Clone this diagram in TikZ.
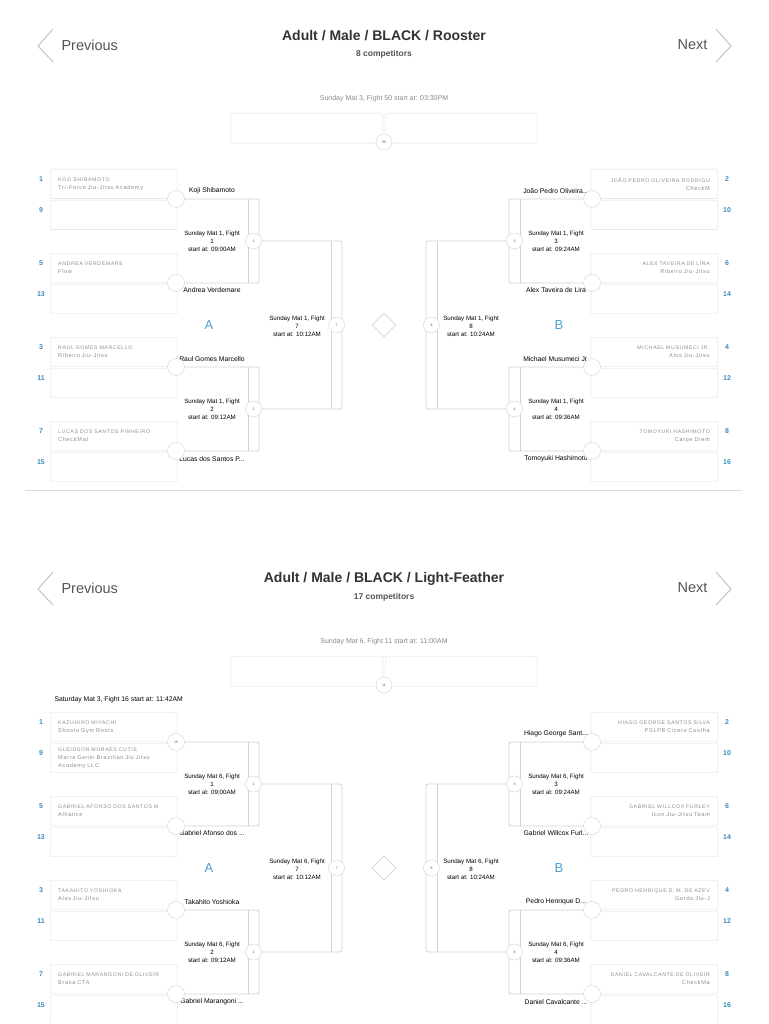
\documentclass[tikz,border=0pt]{standalone}
\usepackage{fontspec}
\setmainfont{Liberation Sans}
\newfontfamily\spacedfont[LetterSpace=12]{Liberation Sans}
\usetikzlibrary{shapes.geometric,backgrounds}
\definecolor{boxline}{HTML}{DCDCDC}
\definecolor{wiregrey}{HTML}{D2D2D2}
\definecolor{namegrey}{HTML}{8E8E8E}
\definecolor{seedblue}{HTML}{3A8CBF}
\definecolor{poolblue}{HTML}{4A9FD4}
\definecolor{headgrey}{HTML}{555555}
\definecolor{dategrey}{HTML}{8A8A8A}
\definecolor{inkdark}{HTML}{333333}
\newcommand\nmsize{\fontsize{5.2}{8}\selectfont}
\tikzset{
  seedbox/.style  = {draw=boxline, rounded corners=2pt, anchor=north west,
                     minimum width=127pt, minimum height=29.5pt, inner xsep=8pt,
                     text width=111pt, align=left, text=namegrey,
                     font=\spacedfont\fontsize{5.6}{8}\selectfont},
  seedboxr/.style = {seedbox, anchor=north east, align=right},
  finalbox/.style = {draw=boxline, rounded corners=2pt, minimum width=152pt,
                     minimum height=30pt},
  seednum/.style  = {text=seedblue, font=\fontsize{7}{8}\selectfont\bfseries},
  joint/.style    = {circle, draw=wiregrey, fill=white, minimum size=17pt,
                     inner sep=0pt, text=headgrey, font=\fontsize{3.5}{4}\selectfont},
  dot/.style      = {circle, draw=wiregrey, fill=white, minimum size=16pt,
                     inner sep=0pt, text=headgrey, font=\fontsize{3.5}{4}\selectfont},
  winner/.style   = {text=black, font=\fontsize{6.8}{8}\selectfont},
  fightinfo/.style= {align=center, text=black, font=\fontsize{6.2}{8}\selectfont},
  wire/.style     = {draw=wiregrey, line width=0.8pt, rounded corners=2pt},
  poolmark/.style = {text=poolblue, font=\fontsize{13}{13}\selectfont},
  navtext/.style  = {text=headgrey, font=\fontsize{14.5}{16}\selectfont},
  chev/.style     = {draw=lightgray, line width=0.9pt},
  headline/.style = {text=inkdark, font=\fontsize{14}{16}\selectfont\bfseries},
  subline/.style  = {text=headgrey, font=\fontsize{8.5}{10}\selectfont\bfseries},
  dateline/.style = {text=dategrey, font=\fontsize{7}{8}\selectfont},
  middiamond/.style = {diamond, draw=wiregrey, line width=0.8pt,
                     minimum size=24pt, inner sep=0pt},
}

\begin{document}
\begin{tikzpicture}[x=1pt,y=-1pt]
  \begin{scope}[on background layer]
    \fill[white] (0,0) rectangle (768,1024);
  \end{scope}
  \useasboundingbox (0,0) rectangle (768,1024);

  % ---------------- Rooster ----------------
  \draw[chev] (53,29) -- (38,46) -- (53,62);
  \node[navtext, anchor=west] (rPrev) at (58,45) {Previous};
  \node[navtext, anchor=east] (rNext) at (711,45) {Next};
  \draw[chev] (716,29) -- (731,46) -- (716,62);
  \node[headline] (rTitle) at (384,36) {Adult / Male / BLACK / Rooster};
  \node[subline] (rCount) at (384,54) {8 competitors};
  \node[dateline] (rDate) at (384,99) {Sunday Mat 3, Fight 50 start at: 03:30PM};
  \node[finalbox, anchor=north east] (rFinA) at (383,113) {};
  \node[finalbox, anchor=north west] (rFinB) at (385,113) {};
  \node[dot] (rF50) at (384,142) {50};

  % pool A
  \node[seedbox] (rL1) at (50,169) {{\nmsize KOJI SHIBAMOTO}\\Tri-Force Jiu-Jitsu Academy};
  \node[seedbox] (rL9) at (50,200) {};
  \node[seedbox] (rL5) at (50,253) {{\nmsize ANDREA VERDEMARE}\\Flow};
  \node[seedbox] (rL13) at (50,284) {};
  \node[seedbox] (rL3) at (50,337) {{\nmsize RAUL GOMES MARCELLO}\\Ribeiro Jiu-Jitsu};
  \node[seedbox] (rL11) at (50,368) {};
  \node[seedbox] (rL7) at (50,421) {{\nmsize LUCAS DOS SANTOS PINHEIRO}\\CheckMat};
  \node[seedbox] (rL15) at (50,452) {};
  \node[seednum] (rS1) at (41,179) {1};
  \node[seednum] (rS9) at (41,210) {9};
  \node[seednum] (rS5) at (41,263) {5};
  \node[seednum] (rS13) at (41,294) {13};
  \node[seednum] (rS3) at (41,347) {3};
  \node[seednum] (rS11) at (41,378) {11};
  \node[seednum] (rS7) at (41,431) {7};
  \node[seednum] (rS15) at (41,462) {15};
  \node[winner] (rW1) at (212,191) {Koji Shibamoto};
  \node[winner] (rW5) at (212,290) {Andrea Verdemare};
  \node[winner] (rW3) at (212,359) {Raul Gomes Marcello};
  \node[winner] (rW7) at (212,459) {Lucas dos Santos P...};
  \node[joint] (rJ1) at (176,199) {};
  \node[joint] (rJ5) at (176,283) {};
  \node[joint] (rJ3) at (176,367) {};
  \node[joint] (rJ7) at (176,451) {};
  \node[fightinfo] (rI1) at (212,241) {Sunday Mat 1, Fight\\1\\start at: 09:00AM};
  \node[fightinfo] (rI2) at (212,409) {Sunday Mat 1, Fight\\2\\start at: 09:12AM};
  \node[fightinfo] (rI7) at (297,326) {Sunday Mat 1, Fight\\7\\start at: 10:12AM};
  \node[dot] (rF1) at (253.5,241) {1};
  \node[dot] (rF2) at (253.5,409) {2};
  \node[dot] (rF7) at (336.5,325) {7};
  \node[poolmark] (rPoolA) at (209,325) {A};

  % pool B
  \node[seedboxr] (rR2) at (718,169) {{\nmsize JOÃO PEDRO OLIVEIRA RODRIGU}\\CheckM};
  \node[seedboxr] (rR10) at (718,200) {};
  \node[seedboxr] (rR6) at (718,253) {{\nmsize ALEX TAVEIRA DE LIRA}\\Ribeiro Jiu-Jitsu};
  \node[seedboxr] (rR14) at (718,284) {};
  \node[seedboxr] (rR4) at (718,337) {{\nmsize MICHAEL MUSUMECI JR.}\\Alos Jiu-Jitsu};
  \node[seedboxr] (rR12) at (718,368) {};
  \node[seedboxr] (rR8) at (718,421) {{\nmsize TOMOYUKI HASHIMOTO}\\Carpe Diem};
  \node[seedboxr] (rR16) at (718,452) {};
  \node[seednum] (rS2) at (727,179) {2};
  \node[seednum] (rS10) at (727,210) {10};
  \node[seednum] (rS6) at (727,263) {6};
  \node[seednum] (rS14) at (727,294) {14};
  \node[seednum] (rS4) at (727,347) {4};
  \node[seednum] (rS12) at (727,378) {12};
  \node[seednum] (rS8) at (727,431) {8};
  \node[seednum] (rS16) at (727,462) {16};
  \node[winner] (rW2) at (556,191) {João Pedro Oliveira...};
  \node[winner] (rW6) at (556,290) {Alex Taveira de Lira};
  \node[winner] (rW4) at (556,359) {Michael Musumeci Jr.};
  \node[winner] (rW8) at (556,459) {Tomoyuki Hashimoto};
  \node[joint] (rJ2) at (592,199) {};
  \node[joint] (rJ6) at (592,283) {};
  \node[joint] (rJ4) at (592,367) {};
  \node[joint] (rJ8) at (592,451) {};
  \node[fightinfo] (rI3) at (556,241) {Sunday Mat 1, Fight\\3\\start at: 09:24AM};
  \node[fightinfo] (rI4) at (556,409) {Sunday Mat 1, Fight\\4\\start at: 09:36AM};
  \node[fightinfo] (rI8) at (471,326) {Sunday Mat 1, Fight\\8\\start at: 10:24AM};
  \node[dot] (rF3) at (514.5,241) {3};
  \node[dot] (rF4) at (514.5,409) {4};
  \node[dot] (rF8) at (431.5,325) {8};
  \node[poolmark] (rPoolB) at (559,325) {B};
  \node[middiamond] (rMid) at (384,325) {};

  \begin{scope}[on background layer]
    \draw[wire] (rJ1) -- (259,199) -- (259,283) -- (rJ5);
    \draw[wire] (248,199) -- (248,283);
    \draw[wire] (rJ3) -- (259,367) -- (259,451) -- (rJ7);
    \draw[wire] (248,367) -- (248,451);
    \draw[wire] (rF1) -- (342,241) -- (342,409) -- (rF2);
    \draw[wire] (331,241) -- (331,409);
    \draw[wire] (rJ2) -- (509,199) -- (509,283) -- (rJ6);
    \draw[wire] (520,199) -- (520,283);
    \draw[wire] (rJ4) -- (509,367) -- (509,451) -- (rJ8);
    \draw[wire] (520,367) -- (520,451);
    \draw[wire] (rF3) -- (426,241) -- (426,409) -- (rF4);
    \draw[wire] (437,241) -- (437,409);
  \end{scope}

  \draw[boxline, line width=0.8pt] (25,490) -- (742,490);

  % ---------------- Light-Feather ----------------
  \begin{scope}[yshift=-543pt]
  \draw[chev] (53,29) -- (38,46) -- (53,62);
  \node[navtext, anchor=west] (fPrev) at (58,45) {Previous};
  \node[navtext, anchor=east] (fNext) at (711,45) {Next};
  \draw[chev] (716,29) -- (731,46) -- (716,62);
  \node[headline] (fTitle) at (384,36) {Adult / Male / BLACK / Light-Feather};
  \node[subline] (fCount) at (384,54) {17 competitors};
  \node[dateline] (fDate) at (384,99) {Sunday Mat 6, Fight 11 start at: 11:00AM};
  \node[finalbox, anchor=north east] (fFinA) at (383,113) {};
  \node[finalbox, anchor=north west] (fFinB) at (385,113) {};
  \node[dot] (fF11) at (384,142) {11};
  \node[winner, anchor=west] (fPre) at (51,157) {Saturday Mat 3, Fight 16 start at: 11:42AM};

  % pool A
  \node[seedbox] (fL1) at (50,169) {{\nmsize KAZUHIRO MIYACHI}\\Shooto Gym Roots};
  \node[seedbox] (fL9) at (50,200) {{\nmsize GLEIDSON MORAES CUTIS}\\Marra Genki Brazilian Jiu Jitsu\\Academy LLC};
  \node[seedbox] (fL5) at (50,253) {{\nmsize GABRIEL AFONSO DOS SANTOS M}\\Alliance};
  \node[seedbox] (fL13) at (50,284) {};
  \node[seedbox] (fL3) at (50,337) {{\nmsize TAKAHITO YOSHIOKA}\\Alos Jiu-Jitsu};
  \node[seedbox] (fL11) at (50,368) {};
  \node[seedbox] (fL7) at (50,421) {{\nmsize GABRIEL MARANGONI DE OLIVEIR}\\Brasa CTA};
  \node[seedbox] (fL15) at (50,452) {};
  \node[seednum] (fS1) at (41,179) {1};
  \node[seednum] (fS9) at (41,210) {9};
  \node[seednum] (fS5) at (41,263) {5};
  \node[seednum] (fS13) at (41,294) {13};
  \node[seednum] (fS3) at (41,347) {3};
  \node[seednum] (fS11) at (41,378) {11};
  \node[seednum] (fS7) at (41,431) {7};
  \node[seednum] (fS15) at (41,462) {15};
  \node[winner] (fW5) at (212,290) {Gabriel Afonso dos ...};
  \node[winner] (fW3) at (212,359) {Takahito Yoshioka};
  \node[winner] (fW7) at (212,459) {Gabriel Marangoni ...};
  \node[joint] (fJ1) at (176,199) {16};
  \node[joint] (fJ5) at (176,283) {};
  \node[joint] (fJ3) at (176,367) {};
  \node[joint] (fJ7) at (176,451) {};
  \node[fightinfo] (fI1) at (212,241) {Sunday Mat 6, Fight\\1\\start at: 09:00AM};
  \node[fightinfo] (fI2) at (212,409) {Sunday Mat 6, Fight\\2\\start at: 09:12AM};
  \node[fightinfo] (fI7) at (297,326) {Sunday Mat 6, Fight\\7\\start at: 10:12AM};
  \node[dot] (fF1) at (253.5,241) {1};
  \node[dot] (fF2) at (253.5,409) {2};
  \node[dot] (fF7) at (336.5,325) {7};
  \node[poolmark] (fPoolA) at (209,325) {A};

  % pool B
  \node[seedboxr] (fR2) at (718,169) {{\nmsize HIAGO GEORGE SANTOS SILVA}\\PSLPB Cicero Costha};
  \node[seedboxr] (fR10) at (718,200) {};
  \node[seedboxr] (fR6) at (718,253) {{\nmsize GABRIEL WILLCOX FURLEY}\\Icon Jiu-Jitsu Team};
  \node[seedboxr] (fR14) at (718,284) {};
  \node[seedboxr] (fR4) at (718,337) {{\nmsize PEDRO HENRIQUE D. M. DE AZEV}\\Gordo Jiu-J};
  \node[seedboxr] (fR12) at (718,368) {};
  \node[seedboxr] (fR8) at (718,421) {{\nmsize DANIEL CAVALCANTE DE OLIVEIR}\\CheckMa};
  \node[seedboxr] (fR16) at (718,452) {};
  \node[seednum] (fS2) at (727,179) {2};
  \node[seednum] (fS10) at (727,210) {10};
  \node[seednum] (fS6) at (727,263) {6};
  \node[seednum] (fS14) at (727,294) {14};
  \node[seednum] (fS4) at (727,347) {4};
  \node[seednum] (fS12) at (727,378) {12};
  \node[seednum] (fS8) at (727,431) {8};
  \node[seednum] (fS16) at (727,462) {16};
  \node[winner] (fW2) at (556,191) {Hiago George Sant...};
  \node[winner] (fW6) at (556,290) {Gabriel Willcox Furl...};
  \node[winner] (fW4) at (556,359) {Pedro Henrique D...};
  \node[winner] (fW8) at (556,459) {Daniel Cavalcante ...};
  \node[joint] (fJ2) at (592,199) {};
  \node[joint] (fJ6) at (592,283) {};
  \node[joint] (fJ4) at (592,367) {};
  \node[joint] (fJ8) at (592,451) {};
  \node[fightinfo] (fI3) at (556,241) {Sunday Mat 6, Fight\\3\\start at: 09:24AM};
  \node[fightinfo] (fI4) at (556,409) {Sunday Mat 6, Fight\\4\\start at: 09:36AM};
  \node[fightinfo] (fI8) at (471,326) {Sunday Mat 6, Fight\\8\\start at: 10:24AM};
  \node[dot] (fF3) at (514.5,241) {3};
  \node[dot] (fF4) at (514.5,409) {4};
  \node[dot] (fF8) at (431.5,325) {8};
  \node[poolmark] (fPoolB) at (559,325) {B};
  \node[middiamond] (fMid) at (384,325) {};

  \begin{scope}[on background layer]
    \draw[wire] (fJ1) -- (259,199) -- (259,283) -- (fJ5);
    \draw[wire] (248,199) -- (248,283);
    \draw[wire] (fJ3) -- (259,367) -- (259,451) -- (fJ7);
    \draw[wire] (248,367) -- (248,451);
    \draw[wire] (fF1) -- (342,241) -- (342,409) -- (fF2);
    \draw[wire] (331,241) -- (331,409);
    \draw[wire] (fJ2) -- (509,199) -- (509,283) -- (fJ6);
    \draw[wire] (520,199) -- (520,283);
    \draw[wire] (fJ4) -- (509,367) -- (509,451) -- (fJ8);
    \draw[wire] (520,367) -- (520,451);
    \draw[wire] (fF3) -- (426,241) -- (426,409) -- (fF4);
    \draw[wire] (437,241) -- (437,409);
  \end{scope}
  \end{scope}
\end{tikzpicture}
\end{document}
